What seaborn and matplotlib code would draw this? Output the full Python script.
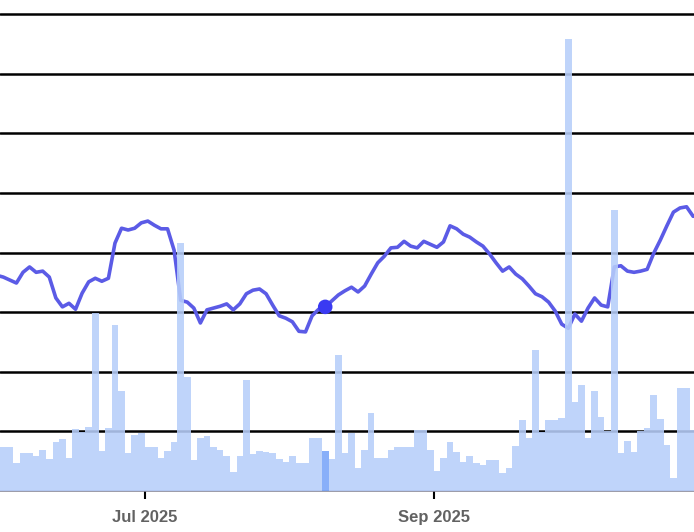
import numpy as np
import pandas as pd
import matplotlib
matplotlib.use("Agg")
import matplotlib.pyplot as plt
import seaborn as sns

# daily closes and volumes (trading days from 2025-05-29)
start_day = "2025-05-29"
last_axis_day = "2025-11-28"
price = [
    36.2, 35.9, 35.4, 34.9, 36.7, 37.6, 36.7, 36.9, 35.9, 32.4,
    30.9, 31.5, 30.5, 33.2, 35.1, 35.7, 35.2, 35.7, 41.6, 44.1,
    43.8, 44.1, 45.0, 45.3, 44.6, 44.0, 44.0, 40.4, 32.0, 31.7,
    30.7, 28.2, 30.4, 30.7, 31.0, 31.4, 30.4, 31.4, 33.1, 33.7,
    33.9, 33.1, 31.2, 29.4, 29.0, 28.4, 26.8, 26.7, 29.4, 30.5,
    30.9, 31.9, 32.9, 33.6, 34.2, 33.4, 34.4, 36.4, 38.3, 39.4,
    40.8, 40.9, 41.9, 41.1, 40.8, 41.9, 41.4, 40.9, 41.8, 44.5,
    44.0, 43.1, 42.6, 41.8, 41.1, 39.8, 38.3, 36.9, 37.6, 36.4,
    35.6, 34.4, 33.1, 32.6, 31.7, 30.2, 28.0, 27.3, 29.7, 28.5,
    30.7, 32.4, 31.2, 30.9, 37.6, 37.8, 36.9, 36.7, 36.9, 37.2,
    39.9, 42.1, 44.5, 46.8, 47.5, 47.7, 46.1, 46.3,
]
volume = [
    4.4, 4.4, 4.4, 2.8, 3.8, 3.8, 3.5, 4.1, 3.2, 4.9,
    5.2, 3.3, 6.2, 5.9, 6.4, 17.8, 4.0, 6.3, 16.6, 10.0,
    3.8, 5.6, 5.8, 4.4, 4.4, 3.3, 4.0, 4.9, 24.8, 11.4,
    3.1, 5.3, 5.5, 4.4, 4.1, 3.5, 1.9, 3.5, 11.1, 3.7,
    4.0, 3.9, 3.8, 3.2, 2.9, 3.5, 2.8, 2.8, 5.3, 5.3,
    4.0, 3.2, 13.6, 3.8, 5.8, 2.3, 4.1, 7.8, 3.3, 3.3,
    4.1, 4.4, 4.4, 4.4, 6.1, 6.1, 4.1, 2.0, 3.3, 4.9,
    3.9, 2.9, 3.5, 2.8, 2.6, 3.1, 3.1, 1.8, 2.3, 4.5,
    7.1, 5.3, 14.1, 5.9, 7.1, 7.1, 7.3, 45.2, 8.9, 10.6,
    5.3, 10.0, 7.4, 6.0, 28.1, 3.8, 5.0, 3.9, 6.0, 6.3,
    9.6, 7.2, 4.6, 1.3, 10.3, 10.3, 6.1, 5.1,
]
highlight_day = "2025-08-07"
tick_months = ["Jul 2025", "Sep 2025", "Nov 2025"]

days = pd.bdate_range(start_day, periods=len(price))
axis_days = pd.bdate_range(start_day, last_axis_day)
df = pd.DataFrame({
    "pos": np.arange(len(price)) + 0.5,
    "price": price,
    "volume": volume,
    "hl": days == pd.Timestamp(highlight_day),
})
tick_pos = []
for m in tick_months:
    first = pd.to_datetime(m, format="%b %Y")
    tick_pos.append(int(np.argmax(axis_days >= first)))

sns.set_style("white")
plt.rcParams["font.family"] = ["Liberation Sans", "DejaVu Sans"]

fig = plt.figure(figsize=(6.94, 5.32), dpi=100)
ax = fig.add_axes([0, 41 / 532, 115 * 6.57 / 694, 491 / 532])
ax2 = ax.twinx()

sns.lineplot(data=df, x="pos", y="price", ax=ax, color="#5b5be6", linewidth=2.6)
sns.scatterplot(data=df[df["hl"]], x="pos", y="price", ax=ax, color="#3a3af2",
                s=110, edgecolor="none", zorder=5)

sns.barplot(data=df, x="pos", y="volume", hue="hl",
            palette={False: "#b7cefa", True: "#78a4f9"}, native_scale=True,
            dodge=False, width=1.0, errorbar=None, legend=False, ax=ax2,
            alpha=0.88, linewidth=0, saturation=1)

ax.set_xlim(1, 116)
ax.set_ylim(0, 82.4)
ax2.set_ylim(0, 49.1)

ax.set_yticks(range(10, 90, 10))
ax.yaxis.grid(True, color="black", linewidth=1.8)
ax.set_axisbelow(True)
ax.tick_params(axis="y", left=False, labelleft=False)
ax2.set_yticks([])

ax.set_xticks(tick_pos)
ax.set_xticklabels(tick_months, fontsize=12, fontweight="bold", color="#626262")
ax.tick_params(axis="x", bottom=True, length=6, width=1.5, color="black", pad=8)

for a in (ax, ax2):
    a.set_xlabel("")
    a.set_ylabel("")
    for s in a.spines.values():
        s.set_visible(False)
ax.spines["bottom"].set_visible(True)
ax.spines["bottom"].set_color("#8a8a9a")
ax.spines["bottom"].set_linewidth(1.2)

fig.savefig("out.png", dpi=100)
